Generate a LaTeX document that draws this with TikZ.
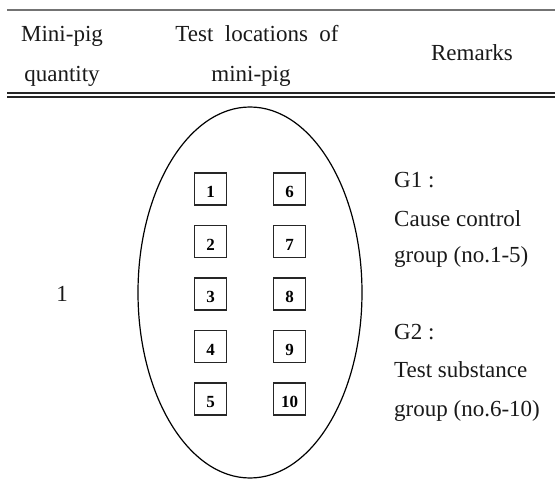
\documentclass[tikz,border=0pt]{standalone}
\usepackage{fontspec}
\setmainfont{Liberation Serif}
\usetikzlibrary{shapes.geometric}
\begin{document}
\begin{tikzpicture}[x=1pt,y=-1pt,
  txt/.style={font=\fontsize{23}{28}\selectfont, inner sep=0pt, text=black!90},
  cell/.style={draw=black!85, line width=1.2pt, minimum size=32pt, inner sep=0pt,
    text height=18pt, text depth=0pt, font=\fontsize{17}{17}\selectfont\bfseries},
  toprule/.style={draw=black!55, line width=1.5pt},
  dblrule/.style={draw=black!85, line width=1.2pt}]
\useasboundingbox (0,0) rectangle (555,486);
% rules
\coordinate (t1) at (7,10);   \coordinate (t2) at (555,10);
\coordinate (d1) at (7,93);   \coordinate (d2) at (555,93);
\coordinate (e1) at (7,97);   \coordinate (e2) at (555,97);
\draw[toprule] (t1) -- (t2);
\draw[dblrule] (d1) -- (d2);
\draw[dblrule] (e1) -- (e2);
% header
\node[txt, anchor=base] (h1a) at (62,42) {Mini-pig};
\node[txt, anchor=base] (h1b) at (62,82) {quantity};
\node[txt, anchor=base] (h2a) at (257,42) {Test\hspace{0.5em}locations\hspace{0.5em}of};
\node[txt, anchor=base] (h2b) at (251,82) {mini-pig};
\node[txt, anchor=base] (h3) at (472,61) {Remarks};
% left column
\node[txt, anchor=base] (q) at (62,302) {1};
% ellipse
\node[draw=black, line width=1.2pt, ellipse, minimum width=224pt, minimum height=371pt, inner sep=0pt] (pig) at (250,292.5) {};
% boxes
\node[cell] (b1) at (210.5,189) {1};
\node[cell] (b2) at (210.5,241.5) {2};
\node[cell] (b3) at (210.5,294) {3};
\node[cell] (b4) at (210.5,346.5) {4};
\node[cell] (b5) at (210.5,399) {5};
\node[cell] (b6) at (289.5,189) {6};
\node[cell] (b7) at (289.5,241.5) {7};
\node[cell] (b8) at (289.5,294) {8};
\node[cell] (b9) at (289.5,346.5) {9};
\node[cell] (b10) at (289.5,399) {10};
% remarks
\node[txt, anchor=base west] (g1) at (394,188) {G1 :};
\node[txt, anchor=base west] (g1a) at (394,227) {Cause control};
\node[txt, anchor=base west] (g1b) at (394,263) {group (no.1-5)};
\node[txt, anchor=base west] (g2) at (394,340) {G2 :};
\node[txt, anchor=base west] (g2a) at (394,378) {Test substance};
\node[txt, anchor=base west] (g2b) at (394,417) {group (no.6-10)};
\end{tikzpicture}
\end{document}
